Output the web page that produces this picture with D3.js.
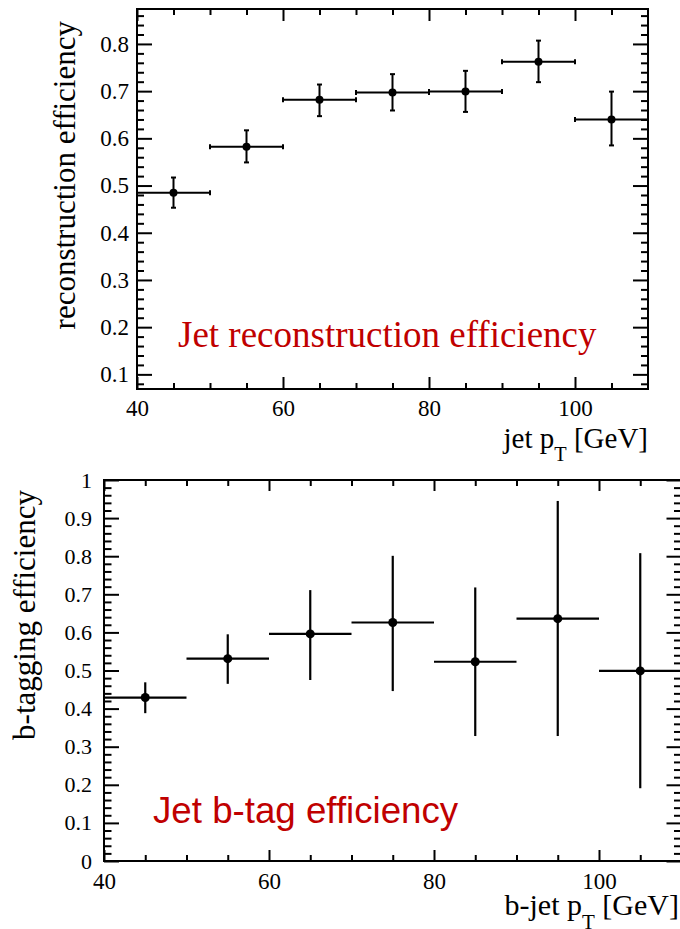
<!DOCTYPE html>
<html>
<head>
<meta charset="utf-8">
<script src="https://cdn.jsdelivr.net/npm/d3@7/dist/d3.min.js"></script>
<style>
  body { margin: 0; background: #fff; }
  svg { display: block; }
</style>
</head>
<body>
<svg id="chart" width="680" height="929"></svg>
<script>
// Jet pT bins (GeV): centres and half width
const binCenters = [45, 55, 65, 75, 85, 95, 105];
const binHalfWidth = 5;

// Jet reconstruction efficiency with lower / upper error bounds
const recoEff = [0.485, 0.582, 0.682, 0.697, 0.699, 0.762, 0.640];
const recoLo  = [0.453, 0.549, 0.647, 0.659, 0.656, 0.719, 0.585];
const recoHi  = [0.517, 0.617, 0.714, 0.736, 0.743, 0.807, 0.699];

// b-tagging efficiency with lower / upper error bounds
const btagEff = [0.429, 0.531, 0.596, 0.626, 0.523, 0.636, 0.499];
const btagLo  = [0.388, 0.465, 0.475, 0.446, 0.328, 0.328, 0.191];
const btagHi  = [0.469, 0.595, 0.711, 0.801, 0.718, 0.945, 0.808];

// Axis tick labels
const xTickLabels = [40, 60, 80, 100];
const recoYTickLabels = [0.1, 0.2, 0.3, 0.4, 0.5, 0.6, 0.7, 0.8];
const btagYTickLabels = [0, 0.1, 0.2, 0.3, 0.4, 0.5, 0.6, 0.7, 0.8, 0.9, 1];

const svg = d3.select("#chart");
const RED = "#c00000";
const SERIF = "'Liberation Serif', 'Times New Roman', serif";
const SANS = "'Liberation Sans', Arial, sans-serif";

function drawPanel(p) {
  const g = svg.append("g");
  const x = d3.scaleLinear().domain([40, 110]).range([p.left, p.right]);
  const y = d3.scaleLinear().domain(p.yDomain).range([p.bottom, p.top]);

  const xMinor = d3.range(45, 110, 5).filter(v => v % 20 !== 0);
  const yMinor = d3.range(0, 51).map(i => i / 50)
    .filter(v => v >= p.yDomain[0] && v <= p.yDomain[1])
    .filter(v => Math.abs(v * 10 - Math.round(v * 10)) > 1e-6);

  const style = sel => {
    sel.select(".domain").remove();
    sel.attr("font-family", SERIF);
    sel.selectAll(".tick line").attr("stroke", "#000").attr("stroke-width", 2);
  };
  const labelFont = size => sel => {
    sel.attr("font-size", size);
    sel.selectAll(".tick text")
      .style("font-family", SERIF).style("font-size", size + "px").attr("fill", "#000");
  };

  // bottom axis with labels
  g.append("g").attr("transform", `translate(0,${p.bottom})`)
    .call(d3.axisBottom(x).tickValues(xTickLabels).tickSize(-p.xMajor).tickPadding(p.xPad)
      .tickFormat(d3.format("d")))
    .call(style)
    .call(labelFont(p.xLabelSize));
  g.append("g").attr("transform", `translate(0,${p.bottom})`)
    .call(d3.axisBottom(x).tickValues(xMinor).tickSize(-p.xMinor).tickFormat(""))
    .call(style);
  // top axis mirrored ticks
  g.append("g").attr("transform", `translate(0,${p.top})`)
    .call(d3.axisTop(x).tickValues(xTickLabels).tickSize(-p.xMajor).tickFormat(""))
    .call(style);
  g.append("g").attr("transform", `translate(0,${p.top})`)
    .call(d3.axisTop(x).tickValues(xMinor).tickSize(-p.xMinor).tickFormat(""))
    .call(style);

  // left axis with labels
  g.append("g").attr("transform", `translate(${p.left},0)`)
    .call(d3.axisLeft(y).tickValues(p.yTicks).tickSize(-p.yMajor).tickPadding(p.yPad)
      .tickFormat(d3.format("")))
    .call(style)
    .call(labelFont(p.yLabelSize));
  g.append("g").attr("transform", `translate(${p.left},0)`)
    .call(d3.axisLeft(y).tickValues(yMinor).tickSize(-p.yMinor).tickFormat(""))
    .call(style);
  // right axis mirrored ticks
  g.append("g").attr("transform", `translate(${p.right},0)`)
    .call(d3.axisRight(y).tickValues(p.yTicks).tickSize(-p.yMajor).tickFormat(""))
    .call(style);
  g.append("g").attr("transform", `translate(${p.right},0)`)
    .call(d3.axisRight(y).tickValues(yMinor).tickSize(-p.yMinor).tickFormat(""))
    .call(style);

  // frame
  g.append("rect")
    .attr("x", p.left).attr("y", p.top)
    .attr("width", p.right - p.left).attr("height", p.bottom - p.top)
    .attr("fill", "none").attr("stroke", "#000").attr("stroke-width", 2);

  // data points with error bars
  const pts = binCenters.map((c, i) => ({ c, v: p.eff[i], lo: p.lo[i], hi: p.hi[i] }));
  const pg = g.append("g").attr("stroke", "#000").attr("stroke-width", p.errWidth);
  pts.forEach(d => {
    const cx = x(d.c), cy = y(d.v);
    const x0 = x(d.c - binHalfWidth), x1 = x(d.c + binHalfWidth);
    const yLo = y(d.lo), yHi = y(d.hi);
    pg.append("line").attr("x1", x0).attr("x2", x1).attr("y1", cy).attr("y2", cy);
    pg.append("line").attr("x1", cx).attr("x2", cx).attr("y1", yLo).attr("y2", yHi);
    if (p.caps) {
      const c = p.caps;
      pg.append("line").attr("x1", x0).attr("x2", x0).attr("y1", cy - c).attr("y2", cy + c);
      pg.append("line").attr("x1", x1).attr("x2", x1).attr("y1", cy - c).attr("y2", cy + c);
      pg.append("line").attr("x1", cx - c).attr("x2", cx + c).attr("y1", yLo).attr("y2", yLo);
      pg.append("line").attr("x1", cx - c).attr("x2", cx + c).attr("y1", yHi).attr("y2", yHi);
    }
    g.append("circle").attr("cx", cx).attr("cy", cy).attr("r", p.markerR).attr("fill", "#000");
  });

  // y axis title
  g.append("text")
    .attr("transform", `translate(${p.yTitleX},${p.yTitleEnd}) rotate(-90)`)
    .attr("text-anchor", "end")
    .style("font-family", SERIF).style("font-size", p.yTitleSize + "px")
    .text(p.yTitle);

  // x axis title with subscript
  const xt = g.append("text")
    .attr("x", p.xTitleEnd).attr("y", p.xTitleY)
    .attr("text-anchor", "end")
    .style("font-family", SERIF).style("font-size", p.xTitleSize + "px");
  xt.append("tspan").text(p.xTitlePre);
  xt.append("tspan").attr("dy", p.xTitleSize * 0.45)
    .style("font-size", (p.xTitleSize * 0.7) + "px").text("T");
  xt.append("tspan").attr("dy", -p.xTitleSize * 0.45).text(" [GeV]");

  // annotation
  g.append("text")
    .attr("x", p.noteX).attr("y", p.noteY)
    .attr("fill", RED)
    .style("font-family", p.noteFont).style("font-size", p.noteSize + "px")
    .text(p.note);
}

drawPanel({
  left: 137, right: 648, top: 9, bottom: 389,
  yDomain: [0.069, 0.874],
  yTicks: recoYTickLabels,
  eff: recoEff, lo: recoLo, hi: recoHi,
  xMajor: 12, xMinor: 6, yMajor: 15, yMinor: 7,
  xPad: 11, yPad: 8, xLabelSize: 23, yLabelSize: 23,
  errWidth: 2, caps: 2.5, markerR: 4,
  yTitle: "reconstruction efficiency", yTitleX: 75, yTitleEnd: 21, yTitleSize: 31,
  xTitlePre: "jet p", xTitleEnd: 648, xTitleY: 448, xTitleSize: 29,
  note: "Jet reconstruction efficiency", noteX: 178, noteY: 347, noteSize: 37, noteFont: SERIF
});

drawPanel({
  left: 104, right: 681.5, top: 480, bottom: 861,
  yDomain: [0, 1],
  yTicks: btagYTickLabels,
  eff: btagEff, lo: btagLo, hi: btagHi,
  xMajor: 11, xMinor: 6, yMajor: 15, yMinor: 7.5,
  xPad: 12, yPad: 12, xLabelSize: 23, yLabelSize: 22,
  errWidth: 2.2, caps: 0, markerR: 4.5,
  yTitle: "b-tagging efficiency", yTitleX: 35, yTitleEnd: 490, yTitleSize: 31,
  xTitlePre: "b-jet p", xTitleEnd: 679, xTitleY: 915, xTitleSize: 30,
  note: "Jet b-tag efficiency", noteX: 153, noteY: 823, noteSize: 36.7, noteFont: SANS
});
</script>
</body>
</html>
